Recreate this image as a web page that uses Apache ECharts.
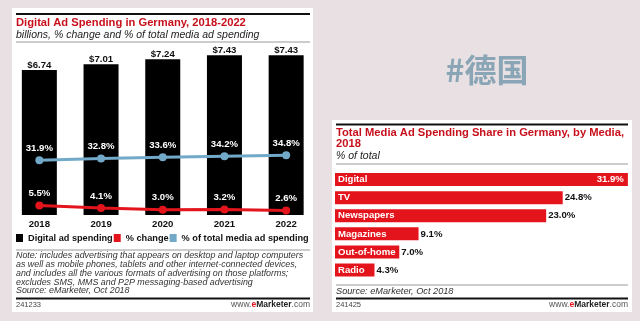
<!DOCTYPE html>
<html><head><meta charset="utf-8">
<script src="https://cdn.jsdelivr.net/npm/echarts@6/dist/echarts.min.js"></script>
<style>html,body{margin:0;padding:0;background:#e8e0e2;}#c{width:640px;height:321px;}</style>
</head><body><div id="c"></div>
<script>
const years = ['2018', '2019', '2020', '2021', '2022'];
const spending = [6.74, 7.01, 7.24, 7.43, 7.43];
const pctChange = [5.5, 4.1, 3.0, 3.2, 2.6];
const pctTotal = [31.9, 32.8, 33.6, 34.2, 34.8];
const media = ['Digital', 'TV', 'Newspapers', 'Magazines', 'Out-of-home', 'Radio'];
const mediaShare = [31.9, 24.8, 23.0, 9.1, 7.0, 4.3];
const noteLines = [
  'Note: includes advertising that appears on desktop and laptop computers',
  'as well as mobile phones, tablets and other internet-connected devices,',
  'and includes all the various formats of advertising on those platforms;',
  'excludes SMS, MMS and P2P messaging-based advertising',
  'Source: eMarketer, Oct 2018'
];

const FF = '"Liberation Sans", Arial, sans-serif';
const RED = '#e3141c';
const TRED = '#c8101c';
const BLUE = '#72a8c8';

function txt(x, y, text, font, fill, align) {
  return { type: 'text', z: 10, style: { x: x, y: y, text: text, font: font, fill: fill, align: align || 'left', verticalAlign: 'middle' } };
}
function line(x1, x2, y, w, c) {
  return { type: 'line', z: 10, shape: { x1: x1, y1: y, x2: x2, y2: y }, style: { stroke: c, lineWidth: w } };
}
function brand(x, y) {
  return { type: 'text', z: 10, style: { x: x, y: y, align: 'right', verticalAlign: 'middle',
    text: '{a|www.}{b|e}{c|Marketer}{a|.com}',
    rich: {
      a: { fontFamily: FF, fontSize: 8.5, fill: '#555', color: '#555' },
      b: { fontFamily: FF, fontSize: 8.5, fontWeight: 'bold', fill: RED, color: RED },
      c: { fontFamily: FF, fontSize: 8.5, fontWeight: 'bold', fill: '#222', color: '#222' }
    } } };
}

const graphics = [
  { type: 'rect', z: -1, shape: { x: 12, y: 8, width: 301, height: 304 }, style: { fill: '#fff' } },
  { type: 'rect', z: -1, shape: { x: 332, y: 120, width: 300, height: 192 }, style: { fill: '#fff' } },
  line(16, 310, 14, 2, '#111'),
  txt(16, 22.5, 'Digital Ad Spending in Germany, 2018-2022', 'bold 11.2px ' + FF, TRED),
  txt(16, 35, 'billions, % change and % of total media ad spending', 'italic 10.5px ' + FF, '#222'),
  line(16, 310, 42, 1, '#999'),
  line(16, 310, 250, 1, '#999'),
  line(16, 310, 298.5, 2, '#111'),
  txt(16, 305, '241233', '7.5px ' + FF, '#444'),
  brand(310, 305),
  line(336, 628, 124.5, 2, '#111'),
  txt(336, 133, 'Total Media Ad Spending Share in Germany, by Media,', 'bold 11.2px ' + FF, TRED),
  txt(336, 144, '2018', 'bold 11.2px ' + FF, TRED),
  txt(336, 156, '% of total', 'italic 10.5px ' + FF, '#222'),
  line(336, 628, 164, 1, '#999'),
  line(336, 628, 285, 1, '#999'),
  txt(336, 291, 'Source: eMarketer, Oct 2018', 'italic 9.2px ' + FF, '#333'),
  line(336, 628, 298.5, 2, '#111'),
  txt(336, 304.5, '241425', '7.5px ' + FF, '#444'),
  brand(628, 304.5),
  txt(487, 70, '#德国', 'bold 32px "Noto Sans CJK SC", sans-serif', '#8aa6b6', 'center')
];
noteLines.forEach(function (t, i) {
  graphics.push(txt(16, 255.8 + i * 8.75, t, 'italic 8.9px ' + FF, '#333'));
});

const chart = echarts.init(document.getElementById('c'));
chart.setOption({
  animation: false,
  backgroundColor: '#e8e0e2',
  textStyle: { fontFamily: FF },
  graphic: graphics,
  legend: {
    left: 16, top: 233.5, itemWidth: 7, itemHeight: 8, itemGap: 1, padding: 0,
    textStyle: { fontFamily: FF, fontWeight: 'bold', fontSize: 9.2, color: '#111' },
    data: [
      { name: 'Digital ad spending', icon: 'rect', itemStyle: { color: '#000' } },
      { name: '% change', icon: 'rect', itemStyle: { color: RED } },
      { name: '% of total media ad spending', icon: 'rect', itemStyle: { color: BLUE } }
    ]
  },
  grid: [
    { left: 8.5, width: 308.5, top: 43, height: 172 },
    { left: 335, width: 293.8, top: 170.5, height: 108.6 }
  ],
  xAxis: [
    { type: 'category', gridIndex: 0, data: years,
      axisLine: { show: false }, axisTick: { show: false },
      axisLabel: { margin: 4, fontFamily: FF, fontWeight: 'bold', fontSize: 9.6, color: '#111' } },
    { type: 'value', gridIndex: 1, min: 0, max: 32, show: false }
  ],
  yAxis: [
    { type: 'value', gridIndex: 0, min: 0, max: 8, show: false },
    { type: 'value', gridIndex: 0, min: 0, max: 100, show: false },
    { type: 'category', gridIndex: 1, data: media, inverse: true, z: 10,
      axisLine: { show: false }, axisTick: { show: false },
      axisLabel: { inside: true, margin: 3, fontFamily: FF, fontWeight: 'bold', fontSize: 9.6, color: '#fff' } }
  ],
  series: [
    { name: 'Digital ad spending', type: 'bar', xAxisIndex: 0, yAxisIndex: 0, data: spending,
      barWidth: 35, itemStyle: { color: '#000' }, z: 2,
      label: { show: true, position: 'top', distance: 0, fontFamily: FF, fontWeight: 'bold', fontSize: 9.6, color: '#111',
        formatter: function (p) { return '$' + p.value.toFixed(2); } } },
    { name: '% change', type: 'line', xAxisIndex: 0, yAxisIndex: 1, data: pctChange,
      symbol: 'circle', symbolSize: 8, lineStyle: { width: 3, color: RED }, itemStyle: { color: RED }, z: 5,
      label: { show: true, position: 'top', distance: 3, fontFamily: FF, fontWeight: 'bold', fontSize: 9.6, color: '#fff',
        formatter: function (p) { return p.value.toFixed(1) + '%'; } } },
    { name: '% of total media ad spending', type: 'line', xAxisIndex: 0, yAxisIndex: 1, data: pctTotal,
      symbol: 'circle', symbolSize: 8, lineStyle: { width: 3, color: BLUE }, itemStyle: { color: BLUE }, z: 5,
      label: { show: true, position: 'top', distance: 3, fontFamily: FF, fontWeight: 'bold', fontSize: 9.6, color: '#fff',
        formatter: function (p) { return p.value.toFixed(1) + '%'; } } },
    { name: 'share', type: 'bar', xAxisIndex: 1, yAxisIndex: 2, barWidth: 13, itemStyle: { color: RED },
      data: mediaShare.map(function (v, i) {
        return i === 0 ? { value: v, label: { position: 'insideRight', distance: 4, color: '#fff' } } : v;
      }),
      label: { show: true, position: 'right', distance: 2, fontFamily: FF, fontWeight: 'bold', fontSize: 9.6, color: '#111',
        formatter: function (p) { return p.value.toFixed(1) + '%'; } } }
  ]
});
</script>
</body></html>
